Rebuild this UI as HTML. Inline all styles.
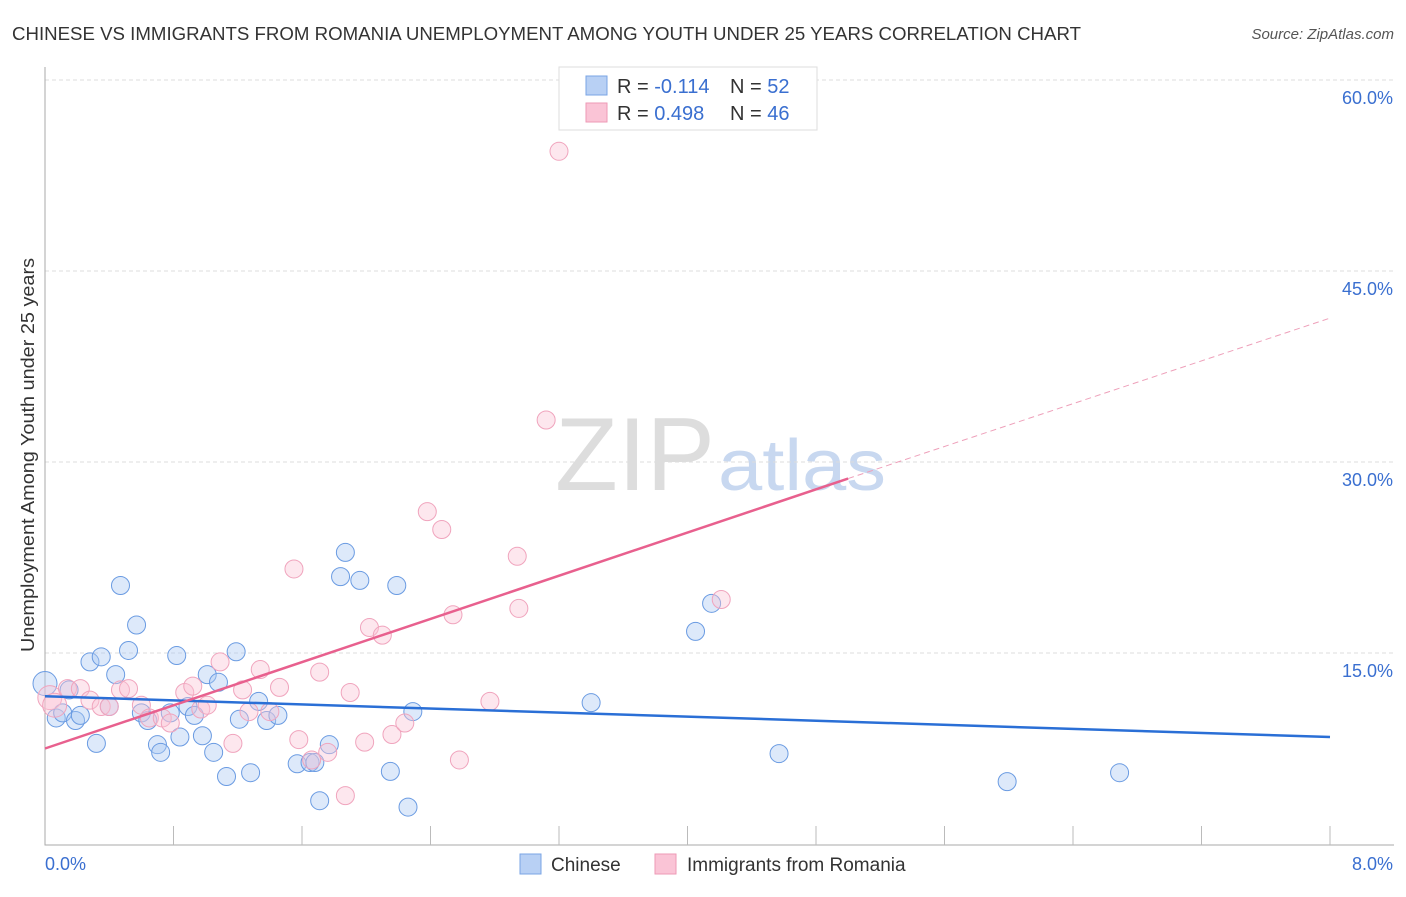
<!DOCTYPE html>
<html><head><meta charset="utf-8"><style>
body{margin:0;background:#fff;font-family:"Liberation Sans",sans-serif;}
svg text{font-family:"Liberation Sans",sans-serif;}
</style></head><body>
<svg id="chart" width="1406" height="892">
<text x="12" y="40" font-size="18" fill="#333" textLength="1069" lengthAdjust="spacingAndGlyphs">CHINESE VS IMMIGRANTS FROM ROMANIA UNEMPLOYMENT AMONG YOUTH UNDER 25 YEARS CORRELATION CHART</text>
<text x="1394" y="39" font-size="15" fill="#555" text-anchor="end" font-style="italic">Source: ZipAtlas.com</text>
<text x="555" y="490" font-size="104" fill="#ddd" textLength="160" lengthAdjust="spacingAndGlyphs" font-family="Liberation Serif">ZIP</text>
<text x="718" y="490" font-size="72" fill="#c8d8f0" textLength="168" lengthAdjust="spacingAndGlyphs">atlas</text>
<g id="grid"></g><g id="axes"></g><g id="pts"></g><g id="lines"></g>
<text transform="translate(34,455) rotate(-90)" font-size="18" fill="#333" text-anchor="middle" textLength="394" lengthAdjust="spacingAndGlyphs">Unemployment Among Youth under 25 years</text>
<text x="45" y="870" font-size="18" fill="#3a6fd0">0.0%</text>
<text x="1393" y="870" font-size="18" fill="#3a6fd0" text-anchor="end">8.0%</text>
<g>
<rect x="559" y="67" width="258" height="63" fill="#fff" stroke="#ddd"/>
<rect x="586" y="76" width="21" height="19" fill="#b8d0f4" stroke="#7aa4e4"/>
<rect x="586" y="103" width="21" height="19" fill="#fac4d6" stroke="#ee9ab6"/>
<text x="617" y="93" font-size="20" fill="#333">R = <tspan fill="#3a6fd0">-0.114</tspan></text>
<text x="730" y="93" font-size="20" fill="#333">N = <tspan fill="#3a6fd0">52</tspan></text>
<text x="617" y="120" font-size="20" fill="#333">R = <tspan fill="#3a6fd0">0.498</tspan></text>
<text x="730" y="120" font-size="20" fill="#333">N = <tspan fill="#3a6fd0">46</tspan></text>
</g>
<g>
<rect x="520" y="854" width="21" height="20" fill="#b8d0f4" stroke="#7aa4e4"/>
<text x="551" y="871" font-size="19" fill="#333">Chinese</text>
<rect x="655" y="854" width="21" height="20" fill="#fac4d6" stroke="#ee9ab6"/>
<text x="687" y="871" font-size="19" fill="#333">Immigrants from Romania</text>
</g>
</svg>
<script>
const yTicks=[15,30,45,60];
const blueX=[0,0.07,0.11,0.15,0.19,0.22,0.28,0.32,0.35,0.40,0.44,0.47,0.52,0.57,0.60,0.64,0.70,0.72,0.78,0.82,0.84,0.89,0.93,0.98,1.01,1.05,1.08,1.13,1.19,1.21,1.28,1.33,1.38,1.45,1.57,1.65,1.68,1.71,1.77,1.84,1.87,1.96,2.15,2.19,2.26,2.29,3.40,4.05,4.15,4.57,5.99,6.69];
const blueY=[12.6,9.9,10.3,12.1,9.7,10.1,14.3,7.9,14.7,10.8,13.3,20.3,15.2,17.2,10.3,9.7,7.8,7.2,10.3,14.8,8.4,10.8,10.1,8.5,13.3,7.2,12.7,5.3,15.1,9.8,5.6,11.2,9.7,10.1,6.3,6.4,6.4,3.4,7.8,21.0,22.9,20.7,5.7,20.3,2.9,10.4,11.1,16.7,18.9,7.1,4.9,5.6];
const pinkX=[0.03,0.06,0.14,0.22,0.28,0.35,0.40,0.47,0.52,0.60,0.65,0.73,0.78,0.87,0.92,0.97,1.01,1.09,1.17,1.23,1.27,1.34,1.40,1.46,1.55,1.58,1.66,1.71,1.76,1.87,1.90,1.99,2.02,2.10,2.16,2.24,2.38,2.47,2.54,2.77,2.94,2.95,3.12,3.20,2.58,4.21];
const pinkY=[11.5,10.9,12.2,12.2,11.3,10.8,10.8,12.1,12.2,10.9,9.9,9.9,9.5,11.9,12.4,10.6,10.9,14.3,7.9,12.1,10.4,13.7,10.4,12.3,21.6,8.2,6.6,13.5,7.2,3.8,11.9,8.0,17.0,16.4,8.6,9.5,26.1,24.7,18.0,11.2,22.6,18.5,33.3,54.4,6.6,19.2];
const blueTrend=[[0,11.6],[8,8.4]];
const pinkTrend=[[0,7.5],[5,28.7]];
const pinkDash=[[5,28.7],[8,41.3]];
const NS='http://www.w3.org/2000/svg';
const X=v=>45+v/8*1285, Y=v=>844-v/15*191;
function mk(p,t,a){const e=document.createElementNS(NS,t);for(const k in a)e.setAttribute(k,a[k]);p.appendChild(e);return e;}
const grid=document.getElementById('grid'),axes=document.getElementById('axes'),pts=document.getElementById('pts'),lines=document.getElementById('lines');
yTicks.forEach(t=>{const l=mk(grid,'line',{x1:45,x2:1394,y1:Y(t),y2:Y(t),stroke:'#ddd','stroke-dasharray':'4,3'});


const tx=mk(grid,'text',{x:1393,y:Y(t)+24,'font-size':18,fill:'#3a6fd0','text-anchor':'end'});tx.textContent=t.toFixed(1)+'%';

});
const ax=mk(axes,'path',{d:'M45,67V845H1394',stroke:'#aaa',fill:'none'});


for(let i=1;i<=10;i++){const t=mk(axes,'line',{x1:X(i*0.8),x2:X(i*0.8),y1:826,y2:845,stroke:'#bbb'});

}
blueX.forEach((v,i)=>{const c=mk(pts,'circle',{cx:X(v),cy:Y(blueY[i]),r:i==0?12:9,fill:'rgba(170,200,242,0.4)',stroke:'#6a9be2','stroke-width':1});

});
pinkX.forEach((v,i)=>{const c=mk(pts,'circle',{cx:X(v),cy:Y(pinkY[i]),r:i<2?12:9,fill:'rgba(250,195,212,0.4)',stroke:'#f0a4bd','stroke-width':1});

});
const bl=mk(lines,'line',{x1:X(blueTrend[0][0]),y1:Y(blueTrend[0][1]),x2:X(blueTrend[1][0]),y2:Y(blueTrend[1][1]),stroke:'#2a6fd6','stroke-width':2.5});


const pl=mk(lines,'line',{x1:X(pinkTrend[0][0]),y1:Y(pinkTrend[0][1]),x2:X(pinkTrend[1][0]),y2:Y(pinkTrend[1][1]),stroke:'#e8608e','stroke-width':2.5});


const pd=mk(lines,'line',{x1:X(pinkDash[0][0]),y1:Y(pinkDash[0][1]),x2:X(pinkDash[1][0]),y2:Y(pinkDash[1][1]),stroke:'#eea0ba','stroke-width':1,'stroke-dasharray':'6,4'});


</script>
</body></html>
